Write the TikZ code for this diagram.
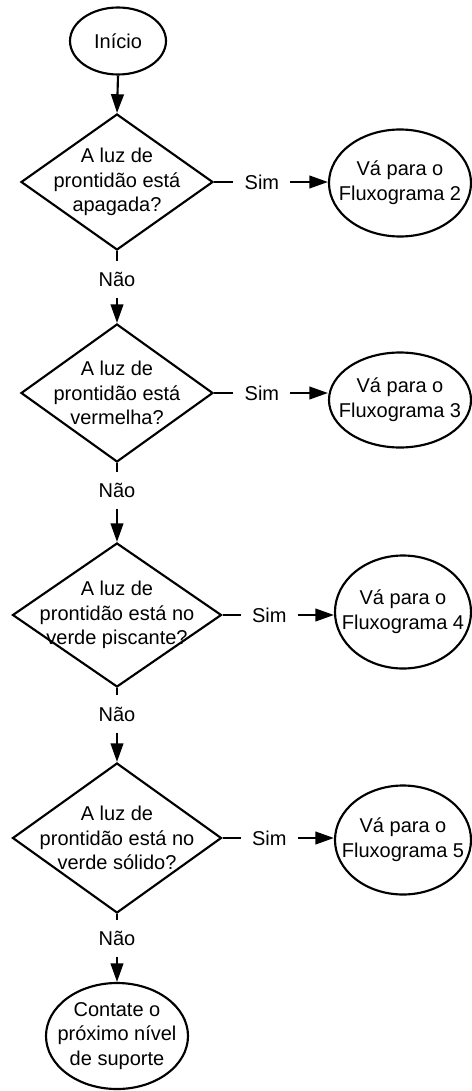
\documentclass[tikz,border=0pt]{standalone}
\usepackage{fontspec}
\setmainfont{Liberation Sans}
\usetikzlibrary{shapes.geometric,arrows.meta}
\begin{document}
\begin{tikzpicture}[x=0.75pt,y=0.75pt,yscale=-1,xscale=1,
  every node/.style={font=\fontsize{15}{18.5}\selectfont, align=center},
  decision/.style={diamond, draw, line width=1.6pt, inner sep=-30pt},
  terminal/.style={ellipse, draw, line width=1.6pt, inner sep=-25pt},
  flow/.style={line width=1.6pt, -{Triangle[length=14pt,width=9.5pt]}},
  answer/.style={fill=white, inner sep=8.5pt}]
\useasboundingbox (0,0) rectangle (471,1091);

% main column
\node[terminal, minimum width=72pt, minimum height=50.25pt] (inicio) at (118,41) {Início};
\node[decision, minimum width=144pt, minimum height=102pt] (d1) at (117,182) {A luz de\\prontidão está\\apagada?};
\node[decision, minimum width=144pt, minimum height=103.5pt] (d2) at (117,393) {A luz de\\prontidão está\\vermelha?};
\node[decision, minimum width=156.75pt, minimum height=108pt] (d3) at (117,615) {A luz de\\prontidão está no\\verde piscante?};
\node[decision, minimum width=156.75pt, minimum height=112.5pt] (d4) at (117,838) {A luz de\\prontidão está no\\verde sólido?};
\node[terminal, minimum width=106.5pt, minimum height=79.5pt] (suporte) at (117,1036) {Contate o\\próximo nível\\de suporte};

% right column
\node[terminal, minimum width=106.5pt, minimum height=80.25pt] (f2) at (400,183) {Vá para o\\Fluxograma 2};
\node[terminal, minimum width=106.5pt, minimum height=71.25pt] (f3) at (400,400) {Vá para o\\Fluxograma 3};
\node[terminal, minimum width=102pt, minimum height=84.75pt] (f4) at (403,612) {Vá para o\\Fluxograma 4};
\node[terminal, minimum width=102pt, minimum height=81.75pt] (f5) at (403,840) {Vá para o\\Fluxograma 5};

% connectors
\draw[flow] (inicio.south) -- (d1.north);
\draw[flow] (d1.south) -- node[answer, pos=0.4] (nao1) {Não} (d2.north);
\draw[flow] (d2.south) -- node[answer, pos=0.35] (nao2) {Não} (d3.north);
\draw[flow] (d3.south) -- node[answer, pos=0.35] (nao3) {Não} (d4.north);
\draw[flow] (d4.south) -- node[answer, pos=0.36] (nao4) {Não} (suporte.north);

\draw[flow] (d1.east) -- node[answer, pos=0.42] (sim1) {Sim} (d1.east -| f2.west);
\draw[flow] (d2.east) -- node[answer, pos=0.42] (sim2) {Sim} (d2.east -| f3.west);
\draw[flow] (d3.east) -- node[answer, pos=0.42] (sim3) {Sim} (d3.east -| f4.west);
\draw[flow] (d4.east) -- node[answer, pos=0.42] (sim4) {Sim} (d4.east -| f5.west);

\end{tikzpicture}
\end{document}
